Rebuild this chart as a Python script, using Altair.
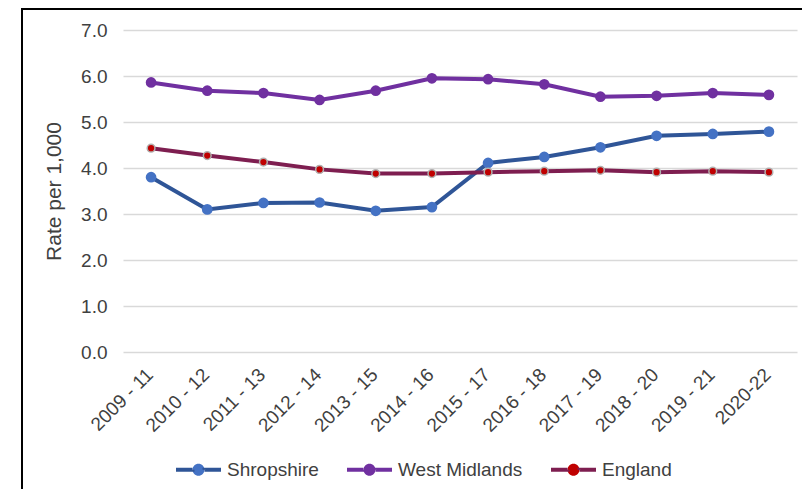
import altair as alt
import pandas as pd

periods = ["2009 - 11", "2010 - 12", "2011 - 13", "2012 - 14", "2013 - 15", "2014 - 16",
           "2015 - 17", "2016 - 18", "2017 - 19", "2018 - 20", "2019 - 21", "2020-22"]
series_names = ["Shropshire", "West Midlands", "England"]
shropshire = [3.80, 3.10, 3.24, 3.25, 3.07, 3.15, 4.11, 4.24, 4.45, 4.70, 4.74, 4.79]
west_midlands = [5.86, 5.68, 5.63, 5.48, 5.68, 5.95, 5.93, 5.82, 5.55, 5.57, 5.63, 5.59]
england = [4.43, 4.27, 4.13, 3.97, 3.88, 3.88, 3.91, 3.93, 3.95, 3.91, 3.93, 3.91]
y_ticks = [0, 1, 2, 3, 4, 5, 6, 7]

line_colors = ["#2F5597", "#7030A0", "#7E1E50"]
marker_colors = ["#4472C4", "#7030A0", "#C00000"]

rows = []
for name, vals in zip(series_names, [shropshire, west_midlands, england]):
    for p, v in zip(periods, vals):
        rows.append({"period": p, "series": name, "value": v})
df = pd.DataFrame(rows)

FONT = "Liberation Sans"
W, H = 674, 322
PAD = {"left": 115, "top": 22, "right": 5, "bottom": 137}

x_enc = alt.X("period:N", sort=periods,
              axis=alt.Axis(labelAngle=315, labelFontSize=19, labelColor="#404040", labelFont=FONT,
                            ticks=False, domain=False, grid=False, labelPadding=13,
                            labelOffset=-8, title=None))
y_enc = alt.Y("value:Q", scale=alt.Scale(domain=[0, 7], nice=False),
              axis=alt.Axis(values=y_ticks, format=".1f", labelFontSize=19, labelColor="#404040",
                            labelFont=FONT, labelPadding=16, grid=True, gridColor="#D9D9D9",
                            gridWidth=1.5, domain=False, ticks=False, title="Rate per 1,000",
                            titleFontSize=21, titleFontWeight="normal", titleColor="#404040",
                            titleFont=FONT, titlePadding=16))

# legend symbol: a line with a marker circle in the middle (unit coordinates)
r = 0.2667
legend_symbol = (f"M-1,0H-{r}A{r},{r},0,0,1,{r},0H1H{r}"
                 f"A{r},{r},0,0,1,-{r},0Z")
leg_common = dict(orient="none", legendX=51, legendY=415, direction="horizontal", title=None,
                  symbolType=legend_symbol, symbolSize=2025, symbolStrokeWidth=4,
                  symbolDash=[16.5, 18.85, 33, 18.85],
                  labelFontSize=19, labelFont=FONT, labelColor="#404040",
                  columnPadding=20, padding=0, labelOffset=4)

lines = alt.Chart(df).mark_line(strokeWidth=4).encode(
    x=x_enc, y=y_enc,
    stroke=alt.Stroke("series:N", scale=alt.Scale(domain=series_names, range=line_colors),
                      legend=alt.Legend(**leg_common)),
    detail="series:N",
)

points = alt.Chart(df).mark_circle(opacity=1, strokeWidth=1.5).encode(
    x=x_enc, y=y_enc,
    fill=alt.Fill("series:N", scale=alt.Scale(domain=series_names, range=marker_colors),
                  legend=alt.Legend(**leg_common)),
    size=alt.condition(alt.datum.series == "England", alt.value(60), alt.value(115)),
    stroke=alt.condition(alt.datum.series == "England", alt.value("#B0B0B0"), alt.value("transparent")),
)

frame_df = pd.DataFrame({"a": [0]})
left_border = alt.Chart(frame_df).mark_rule(color="black", strokeWidth=2).encode(
    x=alt.value(-101), y=alt.value(-22), y2=alt.value(H + PAD["bottom"]))
top_border = alt.Chart(frame_df).mark_rule(color="black", strokeWidth=2).encode(
    x=alt.value(-102), x2=alt.value(W + PAD["right"]), y=alt.value(-21))

chart = alt.layer(lines, points, left_border, top_border).properties(
    width=W, height=H, padding=PAD, autosize=alt.AutoSizeParams(type="none"),
    background="white",
).configure_view(stroke=None)

chart.save("out.html", embed_options={"renderer": "svg", "actions": False})
